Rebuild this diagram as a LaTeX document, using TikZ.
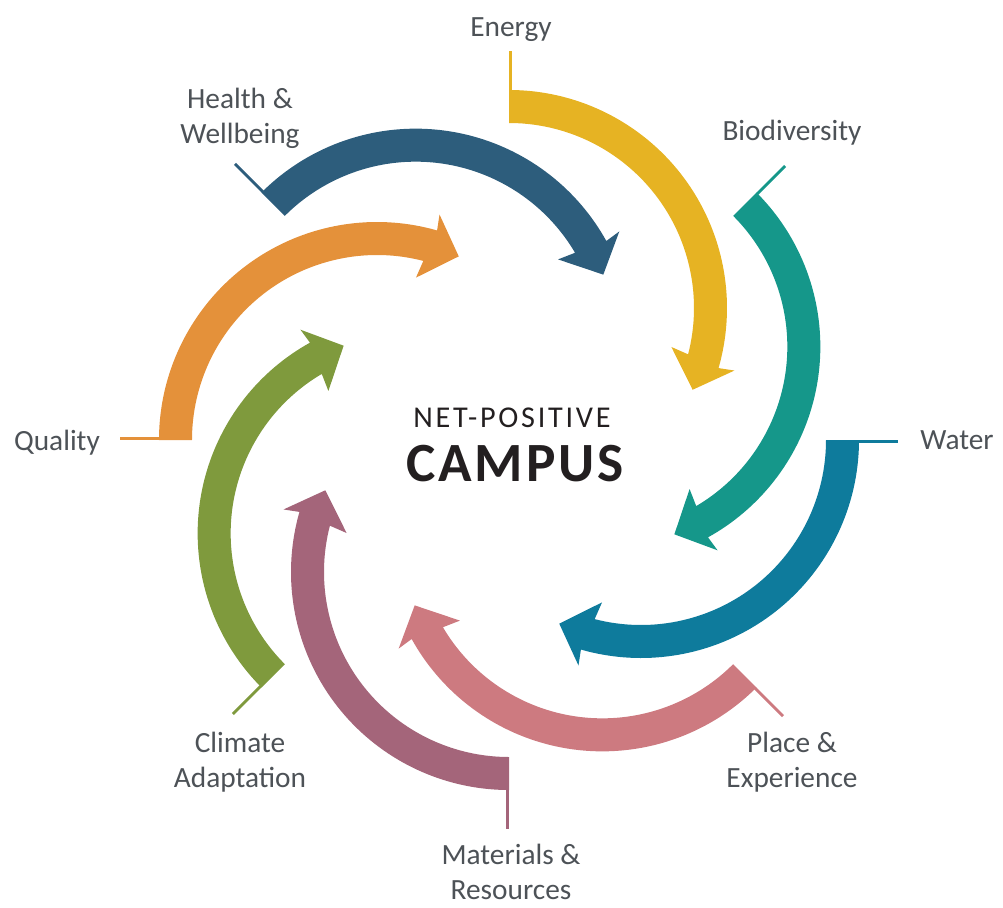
\documentclass[tikz,border=0pt]{standalone}
\usepackage{fontspec}
\setmainfont{Carlito}
\newfontfamily\hubfont[LetterSpace=9]{Carlito}
\newfontfamily\campusfont[LetterSpace=5]{Carlito}
\definecolor{energyc}{HTML}{E6B323}
\definecolor{biodivc}{HTML}{15978A}
\definecolor{waterc}{HTML}{0E7B9C}
\definecolor{placec}{HTML}{CD7A80}
\definecolor{materialc}{HTML}{A4657A}
\definecolor{climatec}{HTML}{7F9A3D}
\definecolor{qualityc}{HTML}{E4913A}
\definecolor{healthc}{HTML}{2D5D7C}
\definecolor{labelgrey}{HTML}{4D5257}
\definecolor{hubtext}{HTML}{231F20}

\begin{document}
\begin{tikzpicture}[x=0.2mm, y=0.2mm,
    cycle arrow/.pic={
      \fill[shift={(0,132)}] (90:218) arc[start angle=90, end angle=-16, radius=218]
        -- (-15.5:234) -- (-24:201) -- (-13.5:167) -- (-14.5:185)
        arc[start angle=-14.5, end angle=90, radius=185] -- cycle;
      \draw[line width=1.7pt] (1.5,349) -- (1.5,389);
    },
    topic/.style={font=\fontsize{16.7}{19.8}\selectfont, text=labelgrey, align=center, inner sep=0pt},
    hub/.style={text=hubtext, inner sep=0pt}]
  \useasboundingbox (-509,-467) rectangle (494,440);

  \foreach \r/\c in {0/energyc, -45/biodivc, -90/waterc, -135/placec,
                     -180/materialc, -225/climatec, -270/qualityc, -315/healthc}
    \pic[rotate=\r, color=\c] at (0,0) {cycle arrow};

  \node[topic] (energy) at (2,410) {Energy};
  \node[topic] (biodiversity) at (283,307) {Biodiversity};
  \node[topic] (water) at (448,0) {Water};
  \node[topic] (place) at (283,-322) {Place \&\\Experience};
  \node[topic] (materials) at (2,-432) {Materials \&\\Resources};
  \node[topic] (climate) at (-269,-322) {Climate\\Adaptation};
  \node[topic] (quality) at (-452,-3) {Quality};
  \node[topic] (health) at (-269,322) {Health \&\\Wellbeing};

  \node[hub, font=\hubfont\fontsize{17.2}{19}\selectfont] (net) at (3,22.5) {NET-POSITIVE};
  \node[hub, font=\campusfont\bfseries\fontsize{31.5}{34}\selectfont] (campus) at (6,-24) {CAMPUS};
\end{tikzpicture}
\end{document}
